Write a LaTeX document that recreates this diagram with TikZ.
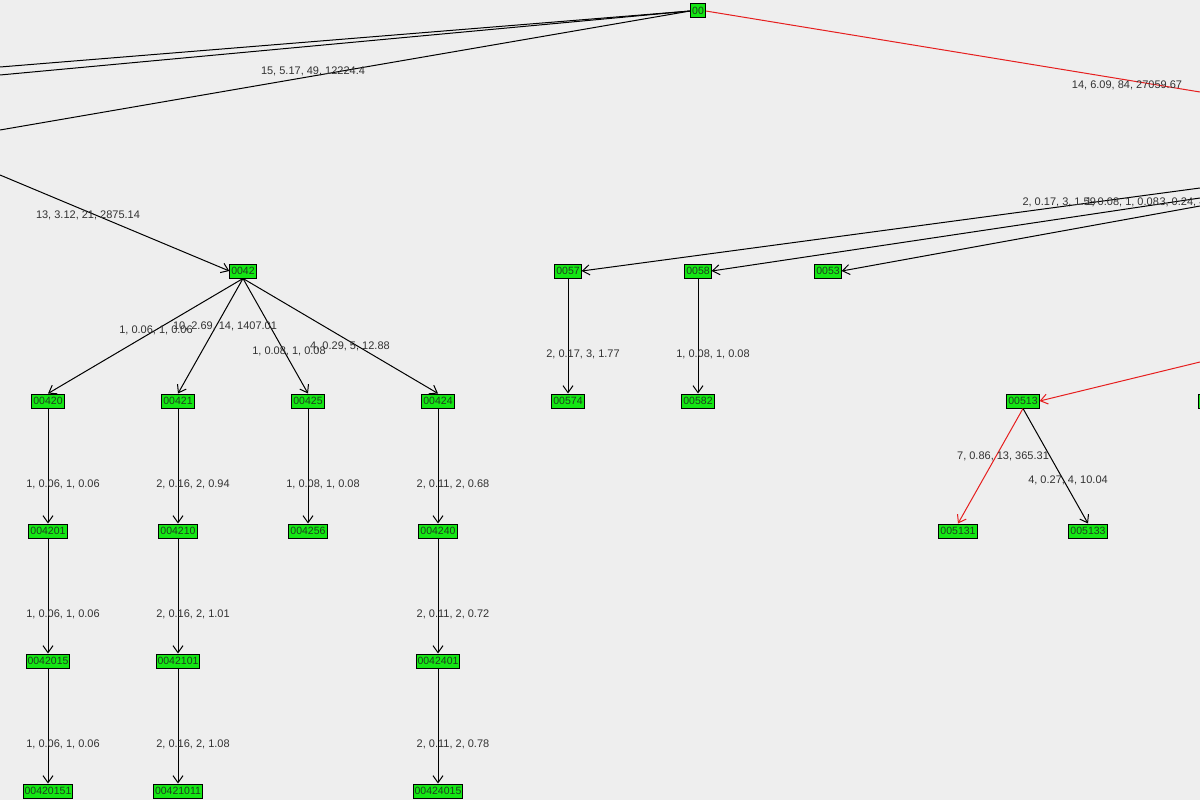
\documentclass[tikz,border=0pt]{standalone}
\usepackage{fontspec}
\setmainfont{Liberation Sans}
\usetikzlibrary{arrows.meta}
\begin{document}
\begin{tikzpicture}[x=1pt,y=-1pt,line width=1pt,
  nd/.style={draw=black,fill={rgb,255:red,20;green,230;blue,20},inner sep=1.5pt,minimum height=14pt,font=\fontsize{10.5}{11}\selectfont,text={rgb,255:red,30;green,60;blue,30}},
  lb/.style={font=\fontsize{11}{12}\selectfont,text={rgb,255:red,50;green,50;blue,50},inner sep=0pt},
  ed/.style={draw=black,-{Straight Barb[length=7pt,width=10pt]}},
  red/.style={draw={rgb,255:red,230;green,30;blue,30}},
  pl/.style={draw=black}]
\useasboundingbox[fill={rgb,255:red,238;green,238;blue,238}] (0,0) rectangle (1200,800);
\clip (0,0) rectangle (1200,800);
\node[nd] (n00) at (698,11) {00};
\node[nd] (n0042) at (243,271) {0042};
\node[nd] (n0057) at (568,271) {0057};
\node[nd] (n0058) at (698,271) {0058};
\node[nd] (n0053) at (828,271) {0053};
\node[nd] (n00513) at (1023,401) {00513};
\node[nd,minimum width=16pt] (nr) at (1206,401) {};
\foreach \n/\x in {00420/48,00421/178,00425/308,00424/438,00574/568,00582/698}{\node[nd] (n\n) at (\x,401) {\n};}
\foreach \n/\x in {004201/48,004210/178,004256/308,004240/438,005131/958,005133/1088}{\node[nd] (n\n) at (\x,531) {\n};}
\foreach \n/\x in {0042015/48,0042101/178,0042401/438}{\node[nd] (n\n) at (\x,661) {\n};}
\foreach \n/\x in {00420151/48,00421011/178,00424015/438}{\node[nd] (n\n) at (\x,791) {\n};}
\coordinate (a1) at (0,67); \coordinate (a2) at (0,75); \coordinate (a3) at (0,130);
\coordinate (ar) at (1200,92); \coordinate (b) at (0,175);
\coordinate (c1) at (1200,188); \coordinate (c2) at (1200,198); \coordinate (c3) at (1200,206);
\coordinate (d) at (1200,362);
\draw[pl] (n00.west) -- (a1);
\draw[pl] (n00.west) -- (a2);
\draw[pl] (n00.west) -- (a3);
\draw[red] (n00.east) -- (ar);
\draw[ed] (b) -- (n0042.west);
\draw[ed] (c1) -- (n0057.east);
\draw[ed] (c2) -- (n0058.east);
\draw[ed] (c3) -- (n0053.east);
\draw[ed,red] (d) -- (n00513.east);
\foreach \a/\b in {0042/00420,0042/00421,0042/00425,0042/00424}{\draw[ed] (n\a.south) -- (n\b.north);}
\foreach \a/\b in {0057/00574,0058/00582,00420/004201,00421/004210,00425/004256,00424/004240,004201/0042015,004210/0042101,004240/0042401,0042015/00420151,0042101/00421011,0042401/00424015}{\draw[ed] (n\a) -- (n\b);}
\draw[ed,red] (n00513.south) -- (n005131.north);
\draw[ed] (n00513.south) -- (n005133.north);
\node[lb] (l1) at (313,71) {15, 5.17, 49, 12224.4};
\node[lb] (l2) at (1127,85) {14, 6.09, 84, 27059.67};
\node[lb] (l3) at (88,215) {13, 3.12, 21, 2875.14};
\node[lb,anchor=west] (l4) at (1022,202) {2, 0.17, 3, 1.59};
\node[lb,anchor=west] (l5) at (1085,202) {1, 0.08, 1, 0.08};
\node[lb,anchor=west] (l6) at (1159,202) {3, 0.24, 4, 0.58};
\node[lb] (l7) at (156,330) {1, 0.06, 1, 0.06};
\node[lb] (l8) at (225,326) {10, 2.69, 14, 1407.01};
\node[lb] (l9) at (289,351) {1, 0.08, 1, 0.08};
\node[lb] (l10) at (350,346) {4, 0.29, 5, 12.88};
\node[lb] (l11) at (583,354) {2, 0.17, 3, 1.77};
\node[lb] (l12) at (713,354) {1, 0.08, 1, 0.08};
\node[lb] (l13) at (1003,456) {7, 0.86, 13, 365.31};
\node[lb] (l14) at (1068,480) {4, 0.27, 4, 10.04};
\foreach \t/\x/\y in {{1, 0.06, 1, 0.06}/63/484,{2, 0.16, 2, 0.94}/193/484,{1, 0.08, 1, 0.08}/323/484,{2, 0.11, 2, 0.68}/453/484,
{1, 0.06, 1, 0.06}/63/614,{2, 0.16, 2, 1.01}/193/614,{2, 0.11, 2, 0.72}/453/614,
{1, 0.06, 1, 0.06}/63/744,{2, 0.16, 2, 1.08}/193/744,{2, 0.11, 2, 0.78}/453/744}{\node[lb] at (\x,\y) {\t};}
\end{tikzpicture}
\end{document}
